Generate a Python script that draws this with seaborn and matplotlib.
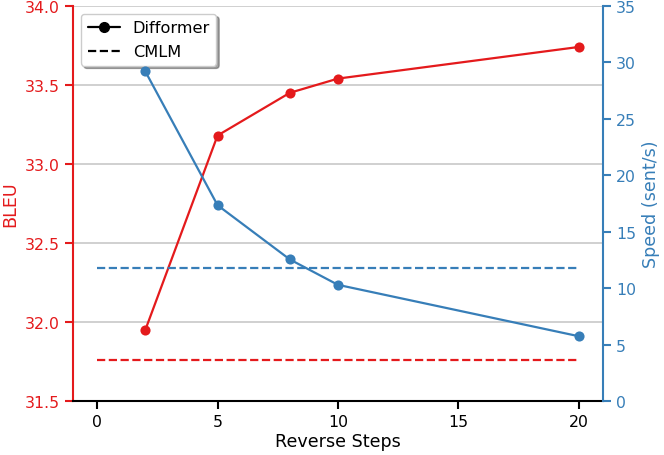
import numpy as np
import pandas as pd
import matplotlib
matplotlib.use("Agg")
import matplotlib.pyplot as plt
from matplotlib.lines import Line2D
import seaborn as sns

steps = [2, 5, 8, 10, 20]
bleu = [31.95, 33.18, 33.45, 33.54, 33.74]
speed = [29.2, 17.35, 12.55, 10.3, 5.75]
cmlm_steps = [0, 20]
cmlm_bleu = [31.76, 31.76]
cmlm_speed = [11.8, 11.8]

red = "#e41a1c"
blue = "#377eb8"

sns.set_style("ticks")
plt.rcParams['font.family'] = ['DejaVu Sans']
plt.rcParams['text.color'] = 'black'
plt.rcParams['axes.labelcolor'] = 'black'
plt.rcParams['xtick.color'] = 'black'
plt.rcParams['axes.edgecolor'] = 'black'
tfs = 11.3   # tick labels
lfs = 12.6   # axis labels

fig, ax = plt.subplots(figsize=(6.64, 4.56), dpi=100)
ax2 = ax.twinx()

df = pd.DataFrame({"steps": steps, "bleu": bleu, "speed": speed})
dc = pd.DataFrame({"steps": cmlm_steps, "bleu": cmlm_bleu, "speed": cmlm_speed})

sns.lineplot(data=df, x="steps", y="bleu", ax=ax, color=red, marker="o",
             markersize=7.3, markeredgewidth=0, linewidth=1.6)
sns.lineplot(data=dc, x="steps", y="bleu", ax=ax, color=red, linestyle="--", linewidth=1.6)
sns.lineplot(data=df, x="steps", y="speed", ax=ax2, color=blue, marker="o",
             markersize=7.3, markeredgewidth=0, linewidth=1.6)
sns.lineplot(data=dc, x="steps", y="speed", ax=ax2, color=blue, linestyle="--", linewidth=1.6)

ax.set_xlim(-1, 21)
ax.set_ylim(31.5, 34.0)
ax.set_yticks(np.arange(31.5, 34.01, 0.5))
ax2.set_ylim(0, 35)
ax2.set_yticks(np.arange(0, 36, 5))
ax.set_xticks([0, 5, 10, 15, 20])

ax.yaxis.grid(True, color="#c8c8c8", linewidth=1.2)
ax.set_axisbelow(True)

ax.set_xlabel("Reverse Steps", fontsize=lfs, labelpad=2)
ax.set_ylabel("BLEU", color=red, fontsize=lfs, labelpad=4)
ax2.set_ylabel("Speed (sent/s)", color=blue, fontsize=lfs, labelpad=4)
ax.tick_params(axis="y", colors=red, labelsize=tfs, length=6, width=1.5)
ax2.tick_params(axis="y", colors=blue, labelsize=tfs, length=6, width=1.5)
ax.tick_params(axis="x", colors="black", labelsize=tfs, length=6, width=1.5)

for a in (ax, ax2):
    a.spines["top"].set_visible(False)
    for s in a.spines.values():
        s.set_linewidth(1.5)
ax.spines["left"].set_color(red)
ax2.spines["left"].set_visible(False)
ax2.spines["right"].set_color(blue)
ax.spines["right"].set_visible(False)
ax2.spines["right"].set_visible(True)
ax2.spines["bottom"].set_visible(False)

handles = [Line2D([], [], color="black", marker="o", markersize=7, linewidth=1.6),
           Line2D([], [], color="black", linestyle="--", linewidth=1.6)]
ax.legend(handles, ["Difformer", "CMLM"], loc="upper left", shadow=True,
          fancybox=True, fontsize=11.6, framealpha=1, labelspacing=0.55)

fig.subplots_adjust(left=0.110, right=0.908, top=0.985, bottom=0.118)
plt.savefig("out.png", dpi=100)
